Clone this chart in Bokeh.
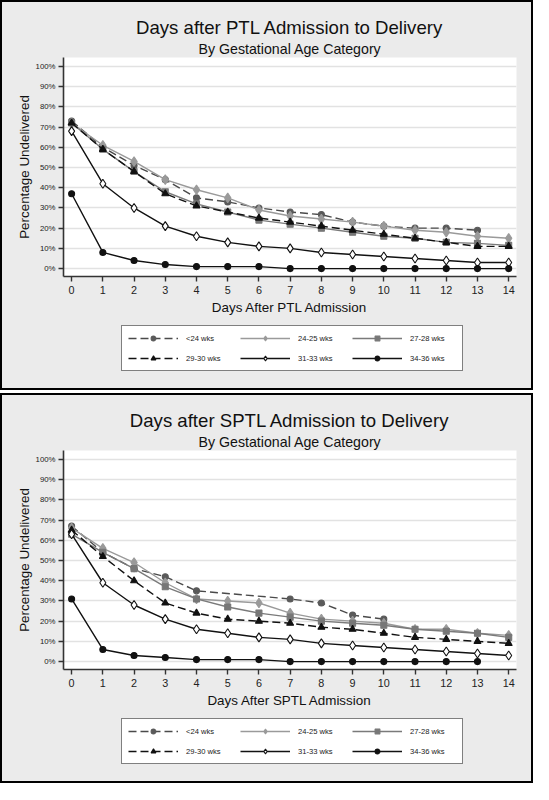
from bokeh.plotting import figure
from bokeh.models import (Range1d, FixedTicker, PrintfTickFormatter, Legend, LegendItem, Title)
from bokeh.layouts import column
from bokeh.embed import file_html
from bokeh.resources import INLINE

# ---------------- data ----------------
days = list(range(15))
labels = ["<24 wks", "24-25 wks", "27-28 wks", "29-30 wks", "31-33 wks", "34-36 wks"]
y_ticks = [0, 10, 20, 30, 40, 50, 60, 70, 80, 90, 100]

# PTL admission panel
ptl_lt24_days = list(range(14))
ptl_lt24 = [73, 60, 51, 44, 35, 33, 30, 28, 26.7, 23, 21, 20, 20, 19]
ptl_24_25 = [72, 61, 53, 44, 39, 35, 29, 26, 24.5, 23, 21, 19, 18, 16, 15]
ptl_27_28 = [72, 59, 48, 38, 32, 28, 24, 22, 20, 18, 16, 15, 13, 12.5, 11.5]
ptl_29_30 = [72, 59, 48, 37, 31, 28, 25, 23, 21, 19, 17, 15, 13, 11, 11]
ptl_31_33 = [68, 42, 30, 21, 16, 13, 11, 10, 8, 7, 6, 5, 4, 3, 3]
ptl_34_36 = [37, 8, 4, 2, 1, 1, 1, 0, 0, 0, 0, 0, 0, 0, 0]

# SPTL admission panel
sptl_lt24_days = [0, 1, 2, 3, 4, 7, 8, 9, 10]
sptl_lt24 = [67, 54, 46, 42, 35, 31, 29, 23, 21]
sptl_24_25 = [66, 56, 49, 39, 31, 30, 29, 24, 21, 20, 19, 16, 16, 14, 13]
sptl_27_28 = [63, 54, 46, 37, 31, 27, 24, 22, 20, 19, 18, 16, 15, 14, 12]
sptl_29_30 = [65, 52, 40, 29, 24, 21, 20, 19, 17, 16, 14, 12, 11, 10, 9]
sptl_31_33 = [63, 39, 28, 21, 16, 14, 12, 11, 9, 8, 7, 6, 5, 4, 3]
sptl_34_36_days = list(range(14))
sptl_34_36 = [31, 6, 3, 2, 1, 1, 1, 0, 0, 0, 0, 0, 0, 0]

FONT = "Liberation Sans"
PANEL_BG = "#ebebeb"

# style per series: line color, dash, marker, marker size, fill color, marker line color
styles = [
    ("#4a4a4a", "8 4", "circle", 6, "#5a5a5a", "#5a5a5a"),
    ("#9a9a9a", "solid", "diamond", 9.5, "#9a9a9a", "#9a9a9a"),
    ("#7a7a7a", "solid", "square", 6, "#777777", "#777777"),
    ("#111111", "8 4", "triangle", 7, "#111111", "#111111"),
    ("#111111", "solid", "diamond", 9, "white", "#111111"),
    ("#111111", "solid", "circle", 6, "#111111", "#111111"),
]


def draw_series(p, series):
    out = []
    for (xs, ys), (lc, dash, mk, ms, fc, mlc) in zip(series, styles):
        lr = p.line(xs, ys, line_color=lc, line_width=1.4, line_dash=dash)
        sr = p.scatter(xs, ys, marker=mk, size=ms, fill_color=fc, line_color=mlc, line_width=1.1)
        out.append([lr, sr])
    return out


def make_panel(title, subtitle, xlabel, series):
    p = figure(width=529, height=323,
               x_range=Range1d(-0.26, 14.25), y_range=Range1d(-3.9, 104.4),
               output_backend="svg", toolbar_location=None,
               min_border_left=61, min_border_right=15,
               min_border_top=55, min_border_bottom=49,
               background_fill_color="white", border_fill_color=PANEL_BG,
               outline_line_color=None)

    p.add_layout(Title(text=subtitle, text_font=FONT, text_font_size="14.2px",
                       text_font_style="normal", align="center", standoff=1,
                       text_color="#111111"), "above")
    p.add_layout(Title(text=title, text_font=FONT, text_font_size="18.6px",
                       text_font_style="normal", align="center", standoff=2,
                       text_color="#111111"), "above")

    p.xgrid.visible = False
    p.ygrid.grid_line_color = "#e2e2e2"
    p.ygrid.grid_line_width = 1.5
    p.ygrid.ticker = FixedTicker(ticks=y_ticks)

    p.yaxis.ticker = FixedTicker(ticks=y_ticks)
    p.yaxis.formatter = PrintfTickFormatter(format="%d%%")
    p.xaxis.ticker = FixedTicker(ticks=days)
    for ax in (p.xaxis[0], p.yaxis[0]):
        ax.axis_line_color = "#333333"
        ax.axis_line_width = 1.6
        ax.major_tick_line_color = "#333333"
        ax.major_tick_line_width = 1.4
        ax.major_tick_in = 0
        ax.major_tick_out = 5
        ax.minor_tick_line_color = None
        ax.axis_label_text_font = FONT
        ax.axis_label_text_font_style = "normal"
        ax.axis_label_text_font_size = "13.4px"
        ax.axis_label_text_color = "#111111"
        ax.major_label_text_font = FONT
        ax.major_label_text_color = "#222222"
    p.yaxis.major_label_text_font_size = "7.8px"
    p.yaxis.major_label_standoff = 3
    p.yaxis.axis_label_standoff = 1
    p.yaxis.axis_label = "Percentage Undelivered"
    p.xaxis.major_label_text_font_size = "10.8px"
    p.xaxis.major_label_standoff = 4
    p.xaxis.axis_label_standoff = 3
    p.xaxis.axis_label = xlabel

    draw_series(p, series)

    # legend strip: same borders as the plot above (so frames line up),
    # ranges away from the data so only the legend glyphs are seen
    lf = figure(width=529, height=63, x_range=Range1d(1000, 1001), y_range=Range1d(1000, 1001),
                output_backend="svg", toolbar_location=None,
                x_axis_type=None, y_axis_type=None,
                min_border_left=61, min_border_right=15,
                min_border_top=0, min_border_bottom=15,
                background_fill_color=PANEL_BG, border_fill_color=PANEL_BG,
                outline_line_color=None)
    lf.xgrid.visible = False
    lf.ygrid.visible = False
    rs = draw_series(lf, series)
    items = [LegendItem(label=lab, renderers=r) for lab, r in zip(labels, rs)]
    legend = Legend(items=items, orientation="horizontal", ncols=3,
                    location=(58, 2),
                    label_text_font=FONT, label_text_font_size="7.6px",
                    label_text_color="#222222",
                    glyph_width=50, glyph_height=12, label_standoff=8,
                    label_width=46, label_height=12,
                    padding=6, spacing=8, margin=0,
                    border_line_color="black", border_line_width=1,
                    background_fill_color="white", background_fill_alpha=1.0)
    lf.add_layout(legend, "center")

    return column(p, lf, spacing=0,
                  styles={"border": "2px solid black", "background-color": PANEL_BG})


panel1 = make_panel("Days after PTL Admission to Delivery", "By Gestational Age Category",
                    "Days After PTL Admission",
                    [(ptl_lt24_days, ptl_lt24), (days, ptl_24_25), (days, ptl_27_28),
                     (days, ptl_29_30), (days, ptl_31_33), (days, ptl_34_36)])
panel2 = make_panel("Days after SPTL Admission to Delivery", "By Gestational Age Category",
                    "Days After SPTL Admission",
                    [(sptl_lt24_days, sptl_lt24), (days, sptl_24_25), (days, sptl_27_28),
                     (days, sptl_29_30), (days, sptl_31_33), (sptl_34_36_days, sptl_34_36)])

layout = column(panel1, panel2, spacing=3)
open("out.html", "w").write(file_html(layout, INLINE))
